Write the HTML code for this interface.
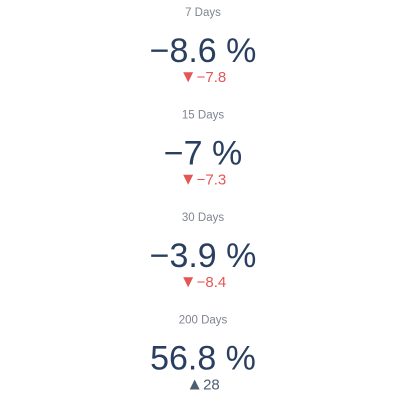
<!DOCTYPE html>
<html><head><meta charset="utf-8"><style>
html,body{margin:0;padding:0;background:#fff;}
svg{display:block;font-family:"Liberation Sans","DejaVu Sans",sans-serif;}
</style></head><body>
<svg id="chart" width="406" height="414" viewBox="0 0 406 414"></svg>
<script>
const titles = ["7 Days", "15 Days", "30 Days", "200 Days"];
const values = [-8.6, -7, -3.9, 56.8];
const deltas = [-7.8, -7.3, -8.4, 28];
const NS = "http://www.w3.org/2000/svg";
const svg = document.getElementById("chart");
const cx = 203, top0 = 0, step = 102.5;
function fmt(v){ return (v<0 ? "\u2212" + Math.abs(v) : String(v)); }
function t(x,y,s,size,fill){
  const e=document.createElementNS(NS,"text");
  e.setAttribute("x",x);e.setAttribute("y",y);e.setAttribute("text-anchor","middle");
  e.setAttribute("font-size",size);e.setAttribute("fill",fill);e.textContent=s;svg.appendChild(e);return e;
}
titles.forEach((title,i)=>{
  const y0 = top0 + i*step;
  const g = t(cx, y0+16, title, 11.5, "#7f8590");
  
  
  const v = t(cx, y0+62, fmt(values[i]) + " %", 34, "#2a3f5f");
  
  
  const d = deltas[i];
  const col = d<0 ? "#e45756" : "#4d5e70";
  const tri = d<0 ? "\u25BC" : "\u25B2";
  const dl = t(cx, y0+82, "", 15, col);
  const ts = document.createElementNS(NS,"tspan");
  ts.setAttribute("font-size","17");
  ts.textContent = tri;
  dl.appendChild(ts);
  const ts2 = document.createElementNS(NS,"tspan");
  ts2.textContent = fmt(d);
  dl.appendChild(ts2);
  
  
});
</script>
</body></html>
